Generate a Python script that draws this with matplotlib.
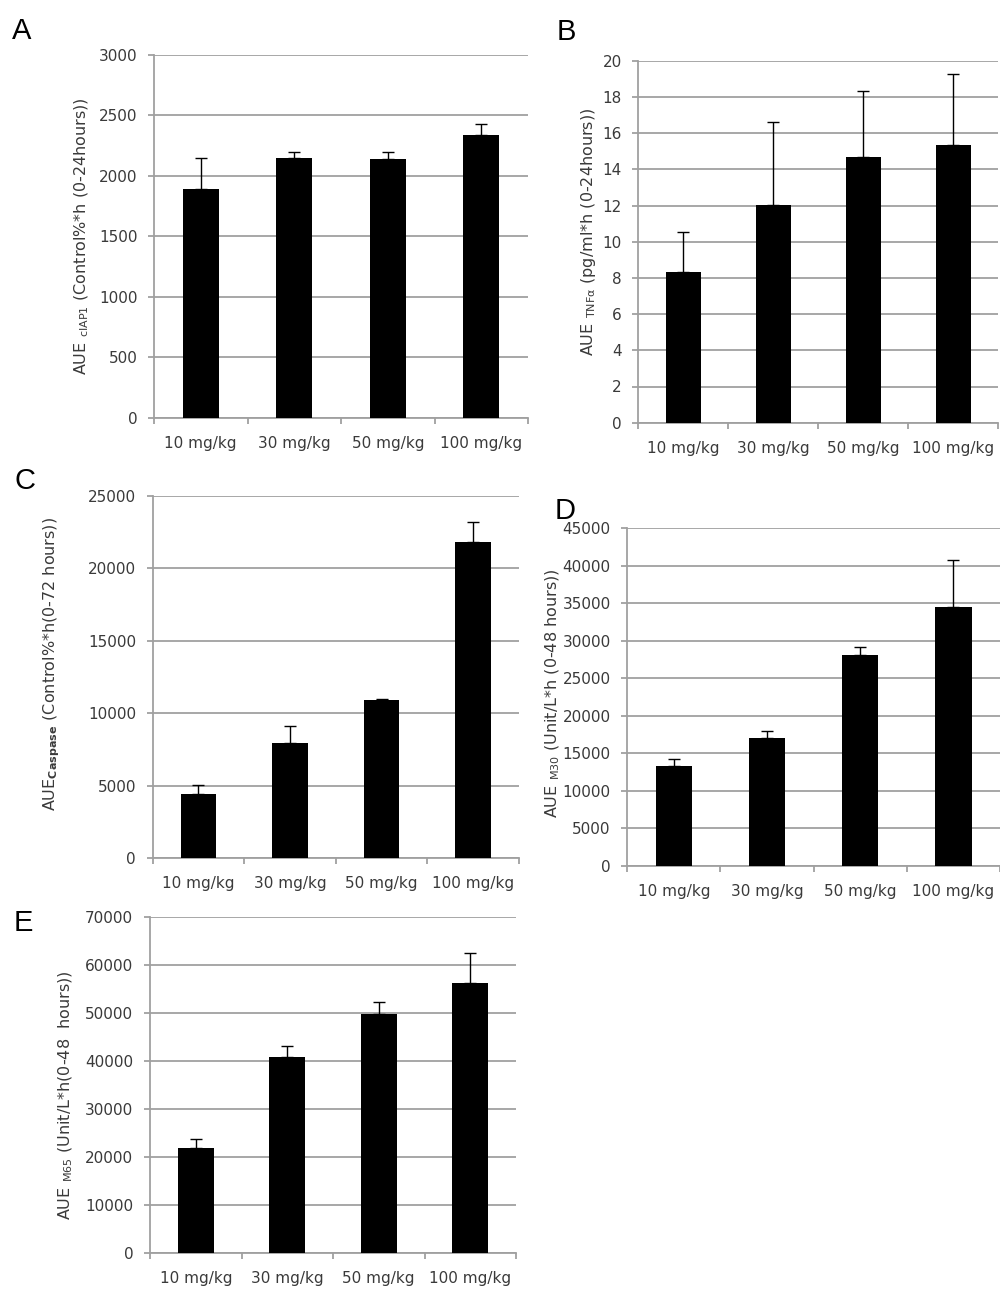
import matplotlib
matplotlib.use("Agg")
import matplotlib.pyplot as plt
from matplotlib.ticker import MultipleLocator, FixedLocator

plt.rcParams["font.family"] = ["DejaVu Sans"]
plt.rcParams["mathtext.fontset"] = "dejavusans"

# Dose groups shared by every panel
doses = ["10 mg/kg", "30 mg/kg", "50 mg/kg", "100 mg/kg"]

# A: cIAP1
ciap1_mean = [1890, 2150, 2140, 2335]
ciap1_err = [255, 47, 58, 90]

# B: TNF-alpha
tnfa_mean = [8.34, 12.03, 14.70, 15.32]
tnfa_err = [2.21, 4.58, 3.64, 3.94]

# C: caspase
caspase_mean = [4440, 7935, 10900, 21800]
caspase_err = [600, 1195, 70, 1380]

# D: M30
m30_mean = [13320, 17100, 28110, 34550]
m30_err = [890, 890, 1020, 6220]

# E: M65
m65_mean = [21880, 40830, 49860, 56320]
m65_err = [1870, 2430, 2430, 6320]

W, H = 1000, 1291
fig = plt.figure(figsize=(W / 100, H / 100), dpi=100)

GRID = "#a0a0a0"
TEXT = "#3a3a3a"


def px_axes(left, top, right, bottom):
    return fig.add_axes([left / W, 1 - bottom / H, (right - left) / W, (bottom - top) / H])


def panel(box, means, errs, ymax, ystep, ylabel, label_dx, label_dy, letter, letter_xy):
    ax = px_axes(*box)
    x = list(range(len(doses)))
    ax.errorbar(x, means, yerr=[[0] * len(errs), errs], fmt="none", ecolor="black",
                elinewidth=1.0, capsize=4.5, capthick=1.0, zorder=2)
    ax.bar(x, means, width=0.39, color="black", zorder=3)
    ax.set_xlim(-0.5, len(doses) - 0.5)
    ax.set_ylim(0, ymax)
    ax.yaxis.set_major_locator(MultipleLocator(ystep))
    ax.yaxis.grid(True, color=GRID, linewidth=1.3, zorder=0)
    ax.set_axisbelow(True)
    for s in ("top", "right"):
        ax.spines[s].set_visible(False)
    for s in ("left", "bottom"):
        ax.spines[s].set_color(GRID)
        ax.spines[s].set_linewidth(1.3)
    ax.set_xticks(x)
    ax.set_xticklabels(doses)
    ax.xaxis.set_minor_locator(FixedLocator([i - 0.5 for i in range(len(doses) + 1)]))
    ax.tick_params(axis="x", which="major", length=0, pad=13, labelsize=11, labelcolor=TEXT)
    ax.tick_params(axis="x", which="minor", length=4, width=1.3, color=GRID, direction="out")
    ax.tick_params(axis="y", length=4, width=1.3, color=GRID, direction="out", pad=8,
                   labelsize=11, labelcolor=TEXT)
    ax.set_ylabel(ylabel, fontsize=11.5, color=TEXT, va="center")
    bw = box[2] - box[0]
    bh = box[3] - box[1]
    ax.yaxis.set_label_coords(-label_dx / bw, 0.5 + label_dy / bh)
    fig.text(letter_xy[0] / W, 1 - letter_xy[1] / H, letter, fontsize=21,
             family="Liberation Sans", color="black", ha="left", va="baseline")
    return ax


panel((154, 54.7, 528, 418), ciap1_mean, ciap1_err, 3000, 500,
      r"AUE $_{\mathrm{cIAP1}}$ (Control%*h (0-24hours))", 72, 0, "A", (12, 39))
panel((638.3, 60.7, 998, 422.7), tnfa_mean, tnfa_err, 20, 2,
      r"AUE $_{\mathrm{TNF\alpha}}$ (pg/ml*h (0-24hours))", 50, 10, "B", (557, 40))
panel((152.7, 496, 519, 858.3), caspase_mean, caspase_err, 25000, 5000,
      r"AUE$_{\mathbf{Caspase}}$ (Control%*h(0-72 hours))", 101, 13, "C", (14, 489))
panel((627.3, 528.3, 1000, 866), m30_mean, m30_err, 45000, 5000,
      r"AUE $_{\mathrm{M30}}$ (Unit/L*h (0-48 hours))", 75, 4, "D", (555, 519))
panel((150, 917.3, 516, 1253.3), m65_mean, m65_err, 70000, 10000,
      r"AUE $_{\mathrm{M65}}$ (Unit/L*h(0-48  hours))", 84, -10, "E", (14, 931))

fig.savefig("out.png", dpi=100, facecolor="white")
